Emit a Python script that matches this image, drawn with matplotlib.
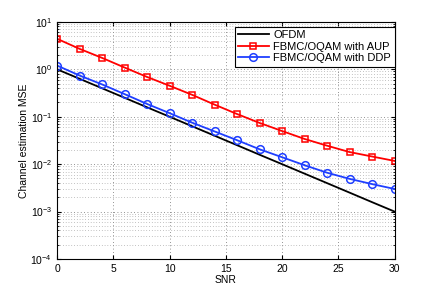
import numpy as np
import matplotlib
matplotlib.use('Agg')
import matplotlib.pyplot as plt
from matplotlib.ticker import LogLocator, NullFormatter

plt.rcParams['font.family'] = ['Liberation Sans', 'DejaVu Sans']
plt.rcParams['mathtext.fontset'] = 'custom'
plt.rcParams['mathtext.rm'] = 'Liberation Sans'
plt.rcParams['mathtext.it'] = 'Liberation Sans:italic'

snr = [0, 2, 4, 6, 8, 10, 12, 14, 16, 18, 20, 22, 24, 26, 28, 30]
mse_ofdm = [1.0, 0.631, 0.398, 0.251, 0.158, 0.1, 0.0631, 0.0398, 0.0251,
            0.0158, 0.01, 0.00631, 0.00398, 0.00251, 0.00158, 0.001]
mse_aup = [4.4, 2.7, 1.74, 1.09, 0.69, 0.45, 0.29, 0.18, 0.114, 0.074,
           0.05, 0.034, 0.0245, 0.018, 0.0145, 0.0117]
mse_ddp = [1.2, 0.74, 0.48, 0.30, 0.186, 0.119, 0.075, 0.049, 0.032, 0.0206,
           0.014, 0.0095, 0.0066, 0.0049, 0.0038, 0.0030]

fig = plt.figure(figsize=(4.36, 2.92), dpi=100)
ax = fig.add_axes([0.131, 0.113, 0.774, 0.812])

ax.semilogy(snr, mse_ofdm, color='black', lw=1.3, label='OFDM')
ax.semilogy(snr, mse_aup, color='red', lw=1.3, marker='s', ms=5,
            mfc='none', mew=1.1, label='FBMC/OQAM with AUP')
ax.semilogy(snr, mse_ddp, color='#1f3fff', lw=1.3, marker='o', ms=5.5,
            mfc='none', mew=1.1, label='FBMC/OQAM with DDP')

ax.set_xlim(0, 30)
ax.set_ylim(1e-4, 10)
ax.set_xticks([0, 5, 10, 15, 20, 25, 30])
ax.yaxis.set_major_locator(LogLocator(base=10, numticks=10))
ax.yaxis.set_minor_locator(LogLocator(base=10, subs=np.arange(2, 10), numticks=20))
ax.yaxis.set_minor_formatter(NullFormatter())
ax.tick_params(which='both', direction='in', labelsize=7.5, top=True, right=True)
ax.tick_params(which='major', length=3)
ax.tick_params(which='minor', length=1.5)
ax.grid(True, which='major', linestyle=(0, (1, 3)), color='#707070', lw=0.6)
ax.grid(True, which='minor', axis='y', linestyle=(0, (1, 3)), color='#8a8a8a', lw=0.5)
for s in ax.spines.values():
    s.set_linewidth(0.8)

ax.set_xlabel('SNR', fontsize=7.5, labelpad=1)
ax.set_ylabel('Channel estimation MSE', fontsize=7.5, labelpad=1)

leg = ax.legend(loc='upper right', bbox_to_anchor=(1.0, 0.98), fontsize=8,
                fancybox=False, framealpha=1, edgecolor='black',
                borderaxespad=0, handlelength=2.8, handletextpad=0.4,
                labelspacing=0.15, borderpad=0.3)
leg.get_frame().set_linewidth(0.8)

plt.savefig('out.png', dpi=100)
